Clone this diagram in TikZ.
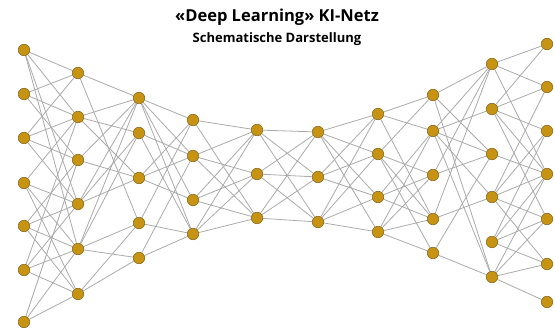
\documentclass[tikz,border=0pt]{standalone}
\usepackage{fontspec}
\setsansfont{Open Sans}
\usetikzlibrary{backgrounds}

\definecolor{unitfill}{RGB}{198,148,18}
\definecolor{unitborder}{RGB}{140,105,30}
\definecolor{linkgray}{RGB}{170,170,170}

\begin{document}
\begin{tikzpicture}[
  x=1pt, y=-1pt,
  unit/.style={circle, draw=unitborder, fill=unitfill, line width=0.6pt,
               minimum size=11.5pt, inner sep=0pt},
  link/.style={draw=linkgray, line width=0.8pt},
  headline/.style={font=\sffamily\bfseries\fontsize{16.5}{19}\selectfont},
  subline/.style={font=\sffamily\bfseries\fontsize{13}{15}\selectfont}
]
\useasboundingbox (0,0) rectangle (555,329);

\node[headline] (head) at (277,17) {«Deep Learning» KI-Netz};
\node[subline] (sub) at (277,39) {Schematische Darstellung};

% layers of units, left to right
\foreach \y [count=\i] in {50,94,138,183,226,270,322}
  \node[unit] (a\i) at (24,\y) {};
\foreach \y [count=\i] in {73,117,160,204,249,294}
  \node[unit] (b\i) at (78,\y) {};
\foreach \y [count=\i] in {98,133,178,223,258}
  \node[unit] (c\i) at (139,\y) {};
\foreach \y [count=\i] in {120,156,200,234}
  \node[unit] (d\i) at (193,\y) {};
\foreach \y [count=\i] in {130,174,218}
  \node[unit] (e\i) at (257,\y) {};
\foreach \y [count=\i] in {132,177,222}
  \node[unit] (f\i) at (318,\y) {};
\foreach \y [count=\i] in {114,154,197,232}
  \node[unit] (g\i) at (378,\y) {};
\foreach \y [count=\i] in {95,131,175,219,253}
  \node[unit] (h\i) at (433,\y) {};
\foreach \y [count=\i] in {64,109,154,197,242,277}
  \node[unit] (i\i) at (492,\y) {};
\foreach \y [count=\i] in {44,87,131,174,219,264,302}
  \node[unit] (j\i) at (547,\y) {};

% connections
\begin{scope}[on background layer]
\foreach \s/\t in {a1/b1,a1/b2,a1/b4,a1/b5, a2/b1,a2/b2,a2/b3,
    a3/b1,a3/b2,a3/b3,a3/b4, a4/b2,a4/b4,a4/b5,a4/b6,
    a5/b3,a5/b4,a5/b5,a5/b6, a6/b2,a6/b4,a6/b5,a6/b6, a7/b3,a7/b5,a7/b6,
    b1/c1,b1/c4, b2/c1,b2/c2,b2/c3, b3/c1,b3/c3, b4/c1,b4/c2,b4/c3,
    b5/c1,b5/c2,b5/c4,b5/c5, b6/c4,b6/c5,
    c1/d1,c1/d2,c1/d3,c1/d4, c2/d2,c2/d4, c3/d1,c3/d2,c3/d3,
    c4/d1,c4/d4, c5/d2,c5/d4,
    d1/e1,d1/e3, d2/e1,d2/e2,d2/e3, d3/e1,d3/e2,d3/e3, d4/e1,d4/e2,d4/e3,
    e1/f1,e1/f2,e1/f3, e2/f1,e2/f2,e2/f3, e3/f1,e3/f2,e3/f3,
    f1/g1,f1/g2,f1/g3,f1/g4, f2/g1,f2/g2,f2/g3, f3/g1,f3/g2,f3/g3,f3/g4,
    g1/h1,g1/h2,g1/h4, g2/h1,g2/h3,g2/h4,g2/h5, g3/h2,g3/h3,g3/h4,
    g4/h2,g4/h3,g4/h4,g4/h5,
    h1/i1,h1/i3,h1/i6, h2/i1,h2/i2,h2/i3,h2/i4,h2/i6, h3/i1,h3/i3,
    h4/i1,h4/i4, h5/i3,h5/i6,
    i1/j1,i1/j2,i1/j4, i2/j1,i2/j2,i2/j3,i2/j4,i2/j5, i3/j4,
    i4/j2,i4/j3,i4/j4,i4/j5,i4/j6, i5/j3,i5/j4,i5/j5,i5/j6,
    i6/j4,i6/j5,i6/j6,i6/j7}
  \draw[link] (\s) -- (\t);
\end{scope}
\end{tikzpicture}
\end{document}
